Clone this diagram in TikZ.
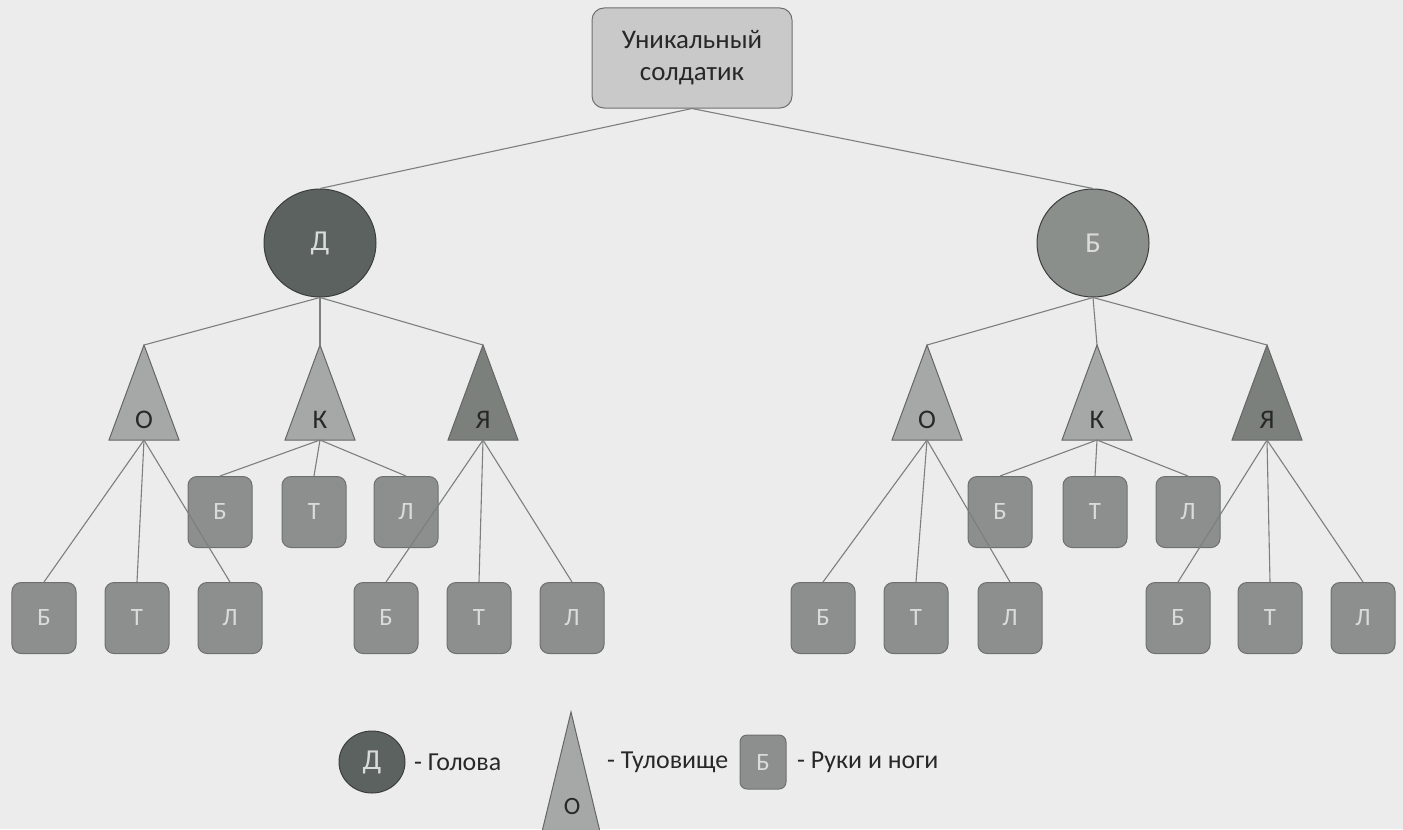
\documentclass[tikz,border=0pt]{standalone}
\usepackage{fontspec}
\setmainfont{Carlito}
\usetikzlibrary{shapes.geometric}
\definecolor{bg}{RGB}{236,236,236}
\definecolor{edgec}{RGB}{125,127,126}
\definecolor{rootc}{RGB}{200,201,200}
\definecolor{rootb}{RGB}{110,112,111}
\definecolor{headdark}{RGB}{92,98,95}
\definecolor{headmid}{RGB}{138,143,140}
\definecolor{headb}{RGB}{60,62,61}
\definecolor{trilight}{RGB}{165,168,166}
\definecolor{tridark}{RGB}{124,128,125}
\definecolor{trib}{RGB}{100,102,101}
\definecolor{limbc}{RGB}{140,143,141}
\definecolor{limbb}{RGB}{110,112,111}
\definecolor{limbtext}{RGB}{218,220,219}
\definecolor{textdark}{RGB}{40,40,40}
\newcommand\mytri[4]{%
  \filldraw[fill=#4, draw=trib, line width=1bp] (#2,345) -- (#2+35,440) -- (#2-35,440) -- cycle;
  \coordinate (#1a) at (#2,345);
  \coordinate (#1b) at (#2,440);
  \node[trilabel] (#1) at (#2,420) {#3};
}
\begin{document}
\begin{tikzpicture}[x=1bp,y=-1bp,
  edge/.style={draw=edgec, line width=1.1bp},
  rootbox/.style={rectangle, rounded corners=12bp, draw=rootb, line width=1bp, fill=rootc,
    minimum width=200bp, minimum height=100bp, align=center, text=textdark,
    font=\fontsize{27}{32}\selectfont},
  head/.style={ellipse, draw=headb, line width=1bp, minimum width=112bp, minimum height=108bp,
    text=limbtext, font=\fontsize{29}{32}\selectfont, inner sep=0pt},
  trilabel/.style={text=textdark, font=\fontsize{27}{30}\selectfont, inner sep=0pt},
  limb/.style={rectangle, rounded corners=9bp, fill=limbc, draw=limbb, line width=1bp,
    minimum width=64bp, minimum height=71bp, text=limbtext, font=\fontsize{25}{28}\selectfont, inner sep=0pt},
  legendtext/.style={text=textdark, font=\fontsize{26}{30}\selectfont, anchor=west, inner sep=0pt}
]
\fill[bg] (0,0) rectangle (1403,829);
\useasboundingbox (0,0) rectangle (1403,829);
\clip (0,0) rectangle (1403,829);

% root
\node[rootbox] (root) at (692,58) {Уникальный\\солдатик};
% heads
\node[head, fill=headdark] (D) at (320,243) {Д};
\node[head, fill=headmid] (B) at (1093,243) {Б};

% triangles
\mytri{oL}{144}{О}{trilight}
\mytri{kL}{320}{К}{trilight}
\mytri{yL}{483}{Я}{tridark}
\mytri{oR}{927}{О}{trilight}
\mytri{kR}{1097}{К}{trilight}
\mytri{yR}{1267}{Я}{tridark}

% middle boxes
\node[limb] (m1) at (220,512) {Б};
\node[limb] (m2) at (314,512) {Т};
\node[limb] (m3) at (406,512) {Л};
\node[limb] (m4) at (1000,512) {Б};
\node[limb] (m5) at (1095,512) {Т};
\node[limb] (m6) at (1188,512) {Л};
% bottom boxes
\node[limb] (a1) at (44,618) {Б};
\node[limb] (a2) at (137,618) {Т};
\node[limb] (a3) at (230,618) {Л};
\node[limb] (c1) at (386,618) {Б};
\node[limb] (c2) at (479,618) {Т};
\node[limb] (c3) at (572,618) {Л};
\node[limb] (d1) at (823,618) {Б};
\node[limb] (d2) at (916,618) {Т};
\node[limb] (d3) at (1010,618) {Л};
\node[limb] (e1) at (1178,618) {Б};
\node[limb] (e2) at (1270,618) {Т};
\node[limb] (e3) at (1363,618) {Л};

% edges
\draw[edge] (root.south) -- (D.north);
\draw[edge] (root.south) -- (B.north);
\foreach \t in {oL,kL,yL} \draw[edge] (D.south) -- (\t a);
\foreach \t in {oR,kR,yR} \draw[edge] (B.south) -- (\t a);
\foreach \b in {m1,m2,m3} \draw[edge] (kLb) -- (\b.north);
\foreach \b in {m4,m5,m6} \draw[edge] (kRb) -- (\b.north);
\foreach \b in {a1,a2,a3} \draw[edge] (oLb) -- (\b.north);
\foreach \b in {c1,c2,c3} \draw[edge] (yLb) -- (\b.north);
\foreach \b in {d1,d2,d3} \draw[edge] (oRb) -- (\b.north);
\foreach \b in {e1,e2,e3} \draw[edge] (yRb) -- (\b.north);

% legend
\node[head, fill=headdark, minimum width=66bp, minimum height=62bp] (lgD) at (372,762) {Д};
\node[legendtext] (lgDt) at (414,762) {- Голова};
\filldraw[fill=trilight, draw=trib, line width=1bp] (571,712) -- (571+31,840) -- (571-31,840) -- cycle;
\coordinate (lgTa) at (571,712);
\node[trilabel, font=\fontsize{25}{28}\selectfont] (lgT) at (572,806) {О};
\node[legendtext] (lgTt) at (607,762) {- Туловище};
\node[limb, minimum width=46bp, minimum height=54bp, rounded corners=7bp] (lgB) at (763,762) {Б};
\node[legendtext] (lgBt) at (797,762) {- Руки и ноги};
\end{tikzpicture}
\end{document}
